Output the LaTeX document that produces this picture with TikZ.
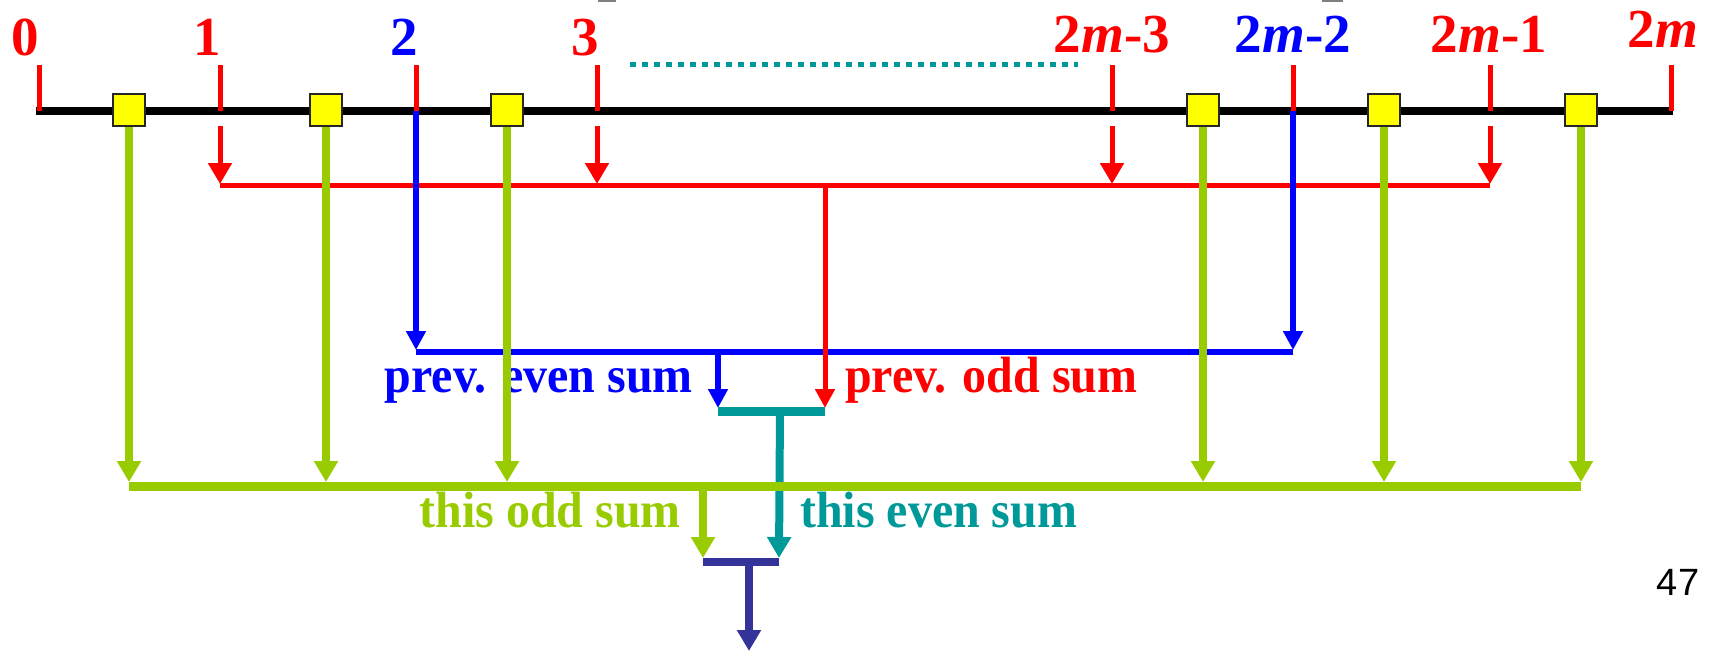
\documentclass[tikz,border=0pt]{standalone}
\usepackage{fontspec}
\setmainfont{Liberation Serif}
\newfontfamily\sansf{Liberation Sans}
\usetikzlibrary{arrows.meta}
\definecolor{cred}{RGB}{255,0,0}
\definecolor{cblue}{RGB}{0,0,255}
\definecolor{cgreen}{RGB}{153,204,0}
\definecolor{cteal}{RGB}{0,153,153}
\definecolor{cnavy}{RGB}{51,51,153}
\definecolor{cyel}{RGB}{255,255,0}
\newcommand{\sqz}[1]{\scalebox{0.94}[1]{#1}}
\begin{document}
\begin{tikzpicture}[x=1pt,y=-1pt,
  numlbl/.style={font=\fontsize{55}{60}\selectfont\bfseries, anchor=base, inner sep=0pt},
  sumlbl/.style={font=\fontsize{51}{55}\selectfont\bfseries, inner sep=0pt},
  proc/.style={draw=black!85, line width=1.5pt, fill=cyel, minimum size=32pt, inner sep=0pt},
  axisline/.style={line width=8pt, black},
  tickline/.style={line width=5pt, cred},
  bigtip/.style={-{Triangle[length=21pt,width=23pt]}},
  smalltip/.style={-{Triangle[length=19pt,width=19pt]}},
  redln/.style={line width=5pt, cred},
  blueln/.style={line width=6pt, cblue},
  greenln/.style={line width=8pt, cgreen},
  tealln/.style={line width=8pt, cteal},
  navyln/.style={line width=8pt, cnavy}
]
\useasboundingbox (0,0) rectangle (1709,651);
% faint marks at the top edge
\fill[gray] (598,0) rectangle (616,2);
\fill[gray] (1322,0) rectangle (1343,2);

% axis
\coordinate (axL) at (36,111);
\coordinate (axR) at (1673,111);
\draw[axisline] (axL) -- (axR);

% tick positions
\coordinate (t0) at (39,111);
\coordinate (t1) at (220,111);
\coordinate (t2) at (416,111);
\coordinate (t3) at (597,111);
\coordinate (t4) at (1112,111);
\coordinate (t5) at (1293,111);
\coordinate (t6) at (1490,111);
\coordinate (t7) at (1671,111);
\foreach \t in {t0,t1,t2,t3,t4,t5,t6,t7}
  \draw[tickline] (\t) -- ++(0,-46);

% tick labels
\node[numlbl, text=cred]  (l0) at (25,55) {0};
\node[numlbl, text=cred]  (l1) at (207,55) {1};
\node[numlbl, text=cblue] (l2) at (404,55) {2};
\node[numlbl, text=cred]  (l3) at (585,55) {3};
\node[numlbl, text=cred]  (l4) at (1112,52) {2\textit{m}-3};
\node[numlbl, text=cblue] (l5) at (1293,52) {2\textit{m}-2};
\node[numlbl, text=cred]  (l6) at (1489,52) {2\textit{m}-1};
\node[numlbl, text=cred]  (l7) at (1663,47) {2\textit{m}};

% dotted ellipsis
\coordinate (dL) at (630,64);
\coordinate (dR) at (1078,64);
\draw[cteal, line width=5pt, dash pattern=on 5.5pt off 6.5pt] (dL) -- (dR);

% red odd stage
\coordinate (rL) at (220,185);
\coordinate (rR) at (1490,185);
\coordinate (rM) at (825,185);
\foreach \x in {220,597,1112,1490}
  \draw[redln, bigtip] (\x,126) -- (\x,184);
\draw[redln] (rL) -- (rR);

% blue even stage
\coordinate (bL) at (416,352);
\coordinate (bR) at (1293,352);
\coordinate (bM) at (718,352);
\draw[blueln, smalltip] (t2) -- ([yshift=2pt]bL);
\draw[blueln, smalltip] (t5) -- ([yshift=2pt]bR);
\draw[blueln] (bL) -- (bR);

% teal combine
\coordinate (cL) at (718,411);
\coordinate (cR) at (825,411);
\coordinate (cM) at (780,411);
\draw[blueln, smalltip] (bM) -- ([yshift=3pt]cL);
\draw[redln, smalltip] (rM) -- ([yshift=3pt]cR);
\draw[line width=9pt, cteal] (cL) -- (cR);

% labels of previous sums
\node[sumlbl, text=cblue, anchor=base east] (pe) at (693,392) {\sqz{prev. even sum}};
\node[sumlbl, text=cred,  anchor=base west] (po) at (845,392) {\sqz{prev. odd sum}};

% final combine
\coordinate (nL) at (703,562);
\coordinate (nR) at (779,562);
\coordinate (nM) at (749,562);
\coordinate (out) at (749,651);
\draw[tealln, bigtip] (cM) -- ([yshift=4pt]nR);

% processors
\node[proc] (s1) at (129,110) {};
\node[proc] (s2) at (326,110) {};
\node[proc] (s3) at (507,110) {};
\node[proc] (s4) at (1203,110) {};
\node[proc] (s5) at (1384,110) {};
\node[proc] (s6) at (1581,110) {};

% green stage
\coordinate (gL) at (129,486);
\coordinate (gR) at (1581,486);
\coordinate (gM) at (703,486);
\foreach \s in {s1,s2,s3,s4,s5,s6}
  \draw[greenln, bigtip] (\s.south) -- ([yshift=4pt]\s.south |- gL);
\draw[line width=9pt, cgreen] (gL) -- (gR);
\draw[greenln, bigtip] (gM) -- ([yshift=4pt]nL);
\draw[navyln] (nL) -- (nR);
\draw[navyln, bigtip] (nM) -- (out);

\node[sumlbl, text=cgreen, anchor=base east] (to) at (681,527) {\sqz{this odd sum}};
\node[sumlbl, text=cteal,  anchor=base west] (te) at (800,527) {\sqz{this even sum}};

% redraw processors on top
\foreach \s/\x in {s1/129,s2/326,s3/507,s4/1203,s5/1384,s6/1581}
  \node[proc] at (\x,110) {};

% page number
\node[font=\sansf\fontsize{38}{40}\selectfont, anchor=base, inner sep=0pt] (pg) at (1678,595) {47};
\end{tikzpicture}
\end{document}
